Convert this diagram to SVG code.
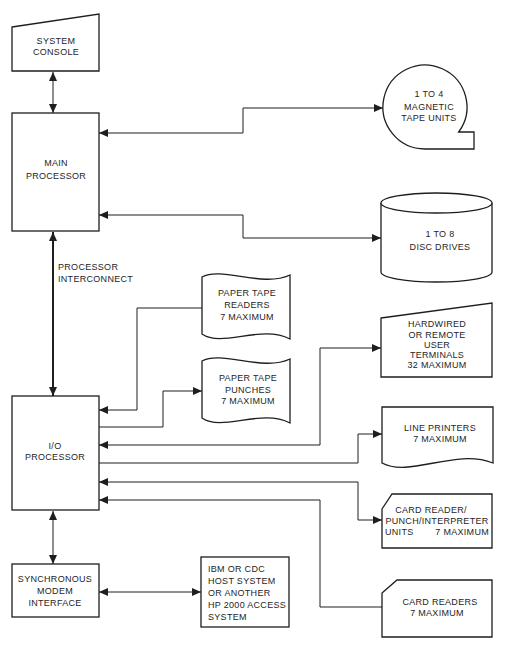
<svg xmlns="http://www.w3.org/2000/svg" width="506" height="656" viewBox="0 0 506 656">
<style>
.n{fill:#fff;stroke:#1e1e1e;stroke-width:1.3;stroke-linejoin:miter}
.c{fill:none;stroke:#1e1e1e;stroke-width:1}
.t{font-family:"Liberation Sans",Arial,sans-serif;font-size:9px;fill:#1e1e1e;letter-spacing:0.3px;text-anchor:middle}
.l{text-anchor:start}
</style>
<defs>
<marker id="ah" markerUnits="userSpaceOnUse" markerWidth="9" markerHeight="8" refX="9" refY="4" orient="auto-start-reverse">
<path d="M0,0 L9,4 L0,8 Z" fill="#1e1e1e"/>
</marker>
</defs>
<rect width="506" height="656" fill="#fff"/>
<g id="connectors">
<path class="c" d="M53,72 L53,113" marker-start="url(#ah)" marker-end="url(#ah)"/>
<path class="c" d="M99,133 L243,133 L243,108 L383,108" marker-start="url(#ah)" marker-end="url(#ah)"/>
<path class="c" d="M99,215 L243,215 L243,238 L381,238" marker-start="url(#ah)" marker-end="url(#ah)"/>
<path class="c" style="stroke-width:2" d="M53,232 L53,396" marker-start="url(#ah)" marker-end="url(#ah)"/>
<path class="c" d="M202,308 L137,308 L137,410 L99,410" marker-end="url(#ah)"/>
<path class="c" d="M99,427 L163,427 L163,391 L202,391" marker-end="url(#ah)"/>
<path class="c" d="M99,445 L320,445 L320,348 L381,348" marker-start="url(#ah)" marker-end="url(#ah)"/>
<path class="c" d="M99,463 L358,463 L358,434 L382,434" marker-end="url(#ah)"/>
<path class="c" d="M99,482 L358,482 L358,520 L382,520" marker-start="url(#ah)" marker-end="url(#ah)"/>
<path class="c" d="M382,607 L320,607 L320,500 L99,500" marker-end="url(#ah)"/>
<path class="c" d="M53,511 L53,564" marker-start="url(#ah)" marker-end="url(#ah)"/>
<path class="c" d="M99,592 L201,592" marker-start="url(#ah)" marker-end="url(#ah)"/>
</g>
<g id="system-console">
<polygon class="n" points="12,27 99,14 99,71 12,71"/>
<text class="t" x="56" y="44">SYSTEM</text>
<text class="t" x="56" y="55">CONSOLE</text>
</g>
<g id="main-processor">
<rect class="n" x="12" y="113" width="87" height="118"/>
<text class="t" x="56" y="166">MAIN</text>
<text class="t" x="56" y="179">PROCESSOR</text>
</g>
<g id="interconnect-label">
<text class="t l" x="58" y="270">PROCESSOR</text>
<text class="t l" x="58" y="282">INTERCONNECT</text>
</g>
<g id="io-processor">
<rect class="n" x="12" y="396" width="87" height="114"/>
<text class="t" x="55" y="449">I/O</text>
<text class="t" x="55" y="460">PROCESSOR</text>
</g>
<g id="sync-modem">
<rect class="n" x="12" y="564" width="87" height="53"/>
<text class="t" x="55" y="582">SYNCHRONOUS</text>
<text class="t" x="55" y="594">MODEM</text>
<text class="t" x="55" y="606">INTERFACE</text>
</g>
<g id="host-system">
<rect class="n" x="201" y="557" width="88" height="70"/>
<text class="t l" x="208" y="572">IBM OR CDC</text>
<text class="t l" x="208" y="584">HOST SYSTEM</text>
<text class="t l" x="208" y="596">OR ANOTHER</text>
<text class="t l" x="208" y="608">HP 2000 ACCESS</text>
<text class="t l" x="208" y="620">SYSTEM</text>
</g>
<g id="magnetic-tape">
<path class="n" d="M425,149 A42,42 0 1 1 458.7,132 L474,132 L474,149 Z"/>
<text class="t" x="429" y="97">1 TO 4</text>
<text class="t" x="429" y="110">MAGNETIC</text>
<text class="t" x="429" y="121">TAPE UNITS</text>
</g>
<g id="disc-drives">
<path class="n" d="M381,203 L381,272 A55.5,10 0 0 0 492,272 L492,203"/>
<ellipse class="n" cx="436.5" cy="203" rx="55.5" ry="10"/>
<text class="t" x="440" y="237">1 TO 8</text>
<text class="t" x="440" y="250">DISC DRIVES</text>
</g>
<g id="paper-tape-readers">
<path class="n" d="M202,277 C222,266 262,288 290,275 L290,339 C262,324 222,348 202,334 Z"/>
<text class="t" x="247" y="296">PAPER TAPE</text>
<text class="t" x="247" y="308">READERS</text>
<text class="t" x="247" y="320">7 MAXIMUM</text>
</g>
<g id="paper-tape-punches">
<path class="n" d="M202,361 C222,350 262,372 290,359 L290,423 C262,408 222,432 202,418 Z"/>
<text class="t" x="248" y="381">PAPER TAPE</text>
<text class="t" x="248" y="393">PUNCHES</text>
<text class="t" x="248" y="404">7 MAXIMUM</text>
</g>
<g id="user-terminals">
<polygon class="n" points="381,318 492,303 492,377 381,377"/>
<text class="t" x="437" y="327">HARDWIRED</text>
<text class="t" x="437" y="338">OR REMOTE</text>
<text class="t" x="437" y="348">USER</text>
<text class="t" x="437" y="358">TERMINALS</text>
<text class="t" x="437" y="368">32 MAXIMUM</text>
</g>
<g id="line-printers">
<path class="n" d="M382,407 L493,407 L493,463 C455,448 410,478 382,463 Z"/>
<text class="t" x="440" y="431">LINE PRINTERS</text>
<text class="t" x="440" y="442">7 MAXIMUM</text>
</g>
<g id="card-punch">
<polygon class="n" points="382,509 392,494 492,494 492,548 382,548"/>
<text class="t" x="431" y="513">CARD READER/</text>
<text class="t" x="437" y="524">PUNCH/INTERPRETER</text>
<text class="t l" x="385" y="535">UNITS</text>
<text class="t" x="489" y="535" style="text-anchor:end">7 MAXIMUM</text>
</g>
<g id="card-readers">
<polygon class="n" points="382,593 397,580 492,580 492,637 382,637"/>
<text class="t" x="440" y="605">CARD READERS</text>
<text class="t" x="437" y="616">7 MAXIMUM</text>
</g>
</svg>
